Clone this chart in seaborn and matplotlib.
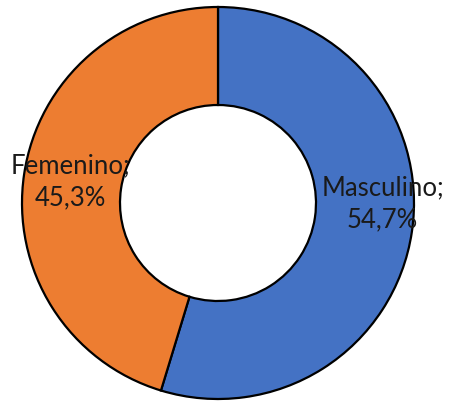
import matplotlib
matplotlib.use("Agg")
import matplotlib.pyplot as plt
import seaborn as sns
import numpy as np

# data
categories = ["Masculino", "Femenino"]
shares = [54.7, 45.3]
colors = ["#4472C4", "#ED7D31"]

# label placement (fraction of radius, angle shift in degrees)
label_dist = [0.84, 0.76]
label_shift = [8.5, 0.0]

sns.set_theme(style="white")
plt.rcParams["font.family"] = ["Lato", "DejaVu Sans"]

W, H = 451, 406
fig = plt.figure(figsize=(W / 100, H / 100), dpi=100)
ax = fig.add_axes([0, 0, 1, 1])

cx, cy, r = 218, H - 204, 196
wedges, _ = ax.pie(
    shares,
    colors=colors,
    startangle=90,
    counterclock=False,
    center=(cx, cy),
    radius=r,
    wedgeprops=dict(width=r * 0.5, edgecolor="black", linewidth=1.6),
    frame=True,
)
ax.set_xlim(0, W)
ax.set_ylim(0, H)
ax.set_aspect("equal")
ax.axis("off")

for w, cat, val, d, s in zip(wedges, categories, shares, label_dist, label_shift):
    ang = np.deg2rad((w.theta1 + w.theta2) / 2 + s)
    x = cx + d * r * np.cos(ang)
    y = cy + d * r * np.sin(ang)
    txt = f"{cat};\n{val:.1f}%".replace(".", ",")
    ax.text(x, y, txt, ha="center", va="center", fontsize=18.5,
            color="#1a1a1a", linespacing=1.35, zorder=5)

fig.savefig("out.png", dpi=100)
